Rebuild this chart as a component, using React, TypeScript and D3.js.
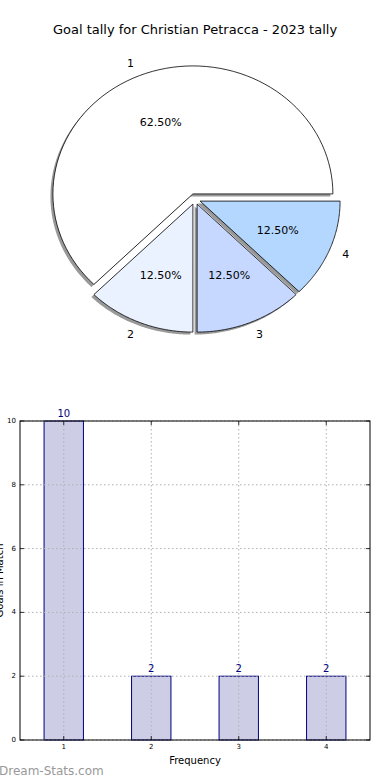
import React, { useEffect, useRef } from 'react';
import * as d3 from 'd3';

// pie data
const sliceLabels = ['1', '2', '3', '4'];
const sliceValues = [10, 2, 2, 2];
const sliceColors = ['#ffffff', '#ebf2ff', '#c6d8ff', '#b4d7ff'];

// bar data
const barCategories = [1, 2, 3, 4];
const barValues = [10, 2, 2, 2];
const yTicks = [0, 2, 4, 6, 8, 10];

const W = 390;
const H = 780;

const App: React.FC = () => {
  const svgRef = useRef<SVGSVGElement | null>(null);

  useEffect(() => {
    if (!svgRef.current) return;
    const svg = d3.select(svgRef.current);
    svg.selectAll('*').remove();
    const font = 'DejaVu Sans, sans-serif';

    // title
    svg.append('text')
      .attr('x', 195).attr('y', 34)
      .attr('text-anchor', 'middle')
      .style('font-family', font).style('font-size', '13px')
      .text('Goal tally for Christian Petracca - 2023 tally');

    // ---- pie (matplotlib style: starts east, counter-clockwise, elliptical) ----
    const cx = 195, cy = 199, rx = 140, ry = 128;
    const explode = 5.5;
    const total = d3.sum(sliceValues);
    const angle = d3.scaleLinear().domain([0, total]).range([0, 2 * Math.PI]);
    const pt = (a: number, k: number) => [k * rx * Math.cos(a), -k * ry * Math.sin(a)];

    const slices: { a0: number; a1: number; i: number }[] = [];
    let acc = 0;
    sliceValues.forEach((v, i) => {
      slices.push({ a0: angle(acc), a1: angle(acc + v), i });
      acc += v;
    });

    const slicePath = (a0: number, a1: number) => {
      const steps = 80;
      const p = d3.path();
      p.moveTo(0, 0);
      for (let s = 0; s <= steps; s++) {
        const a = a0 + (a1 - a0) * s / steps;
        const [x, y] = pt(a, 1);
        p.lineTo(x, y);
      }
      p.closePath();
      return p.toString();
    };

    const pieG = svg.append('g');
    // shadows
    slices.forEach(s => {
      const mid = (s.a0 + s.a1) / 2;
      const ox = explode * Math.cos(mid), oy = -explode * Math.sin(mid);
      pieG.append('path')
        .attr('transform', `translate(${cx + ox - 2.5},${cy + oy + 2.5})`)
        .attr('d', slicePath(s.a0, s.a1))
        .attr('fill', '#555').attr('opacity', 0.6);
    });
    slices.forEach(s => {
      const mid = (s.a0 + s.a1) / 2;
      const ox = explode * Math.cos(mid), oy = -explode * Math.sin(mid);
      const g = pieG.append('g').attr('transform', `translate(${cx + ox},${cy + oy})`);
      g.append('path')
        .attr('d', slicePath(s.a0, s.a1))
        .attr('fill', sliceColors[s.i])
        .attr('stroke', '#000').attr('stroke-width', 0.8);
    });
    slices.forEach(s => {
      const mid = (s.a0 + s.a1) / 2;
      const ox = explode * Math.cos(mid), oy = -explode * Math.sin(mid);
      const [lx, ly] = pt(mid, 1.1);
      const [px, py] = pt(mid, 0.6);
      const cos = Math.cos(mid);
      svg.append('text')
        .attr('x', cx + ox + lx).attr('y', cy + oy + ly)
        .attr('text-anchor', cos < -0.05 ? 'end' : cos > 0.05 ? 'start' : 'middle')
        .attr('dominant-baseline', 'central')
        .style('font-family', font).style('font-size', '11px')
        .text(sliceLabels[s.i]);
      svg.append('text')
        .attr('x', cx + ox + px).attr('y', cy + oy + py)
        .attr('text-anchor', 'middle')
        .attr('dominant-baseline', 'central')
        .style('font-family', font).style('font-size', '11px')
        .text(d3.format('.2f')(sliceValues[s.i] / total * 100) + '%');
    });

    // ---- bar chart ----
    const left = 20, right = 370, top = 421, bottom = 740;
    const x = d3.scaleLinear().domain([0.5, 4.5]).range([left, right]);
    const y = d3.scaleLinear().domain([0, 10]).range([bottom, top]);
    const barW = x(1.45) - x(1);

    const bars = svg.append('g');
    bars.selectAll('rect').data(barValues).enter().append('rect')
      .attr('x', (d, i) => x(barCategories[i]) - barW / 2)
      .attr('y', d => y(d))
      .attr('width', barW)
      .attr('height', d => y(0) - y(d))
      .attr('fill', '#cdcde6')
      .attr('stroke', '#000080').attr('stroke-width', 1);

    // grid
    const grid = svg.append('g')
      .attr('stroke', '#b0b0b0').attr('stroke-width', 1)
      .attr('stroke-dasharray', '1.5,2.5');
    yTicks.forEach(t => {
      grid.append('line').attr('x1', left).attr('x2', right)
        .attr('y1', y(t)).attr('y2', y(t));
    });
    barCategories.forEach(c => {
      grid.append('line').attr('x1', x(c)).attr('x2', x(c))
        .attr('y1', top).attr('y2', bottom);
    });

    // frame
    svg.append('rect')
      .attr('x', left).attr('y', top)
      .attr('width', right - left).attr('height', bottom - top)
      .attr('fill', 'none').attr('stroke', '#000').attr('stroke-width', 1);

    // ticks
    const ticks = svg.append('g').attr('stroke', '#000').attr('stroke-width', 0.8);
    yTicks.forEach(t => {
      ticks.append('line').attr('x1', left).attr('x2', left + 4).attr('y1', y(t)).attr('y2', y(t));
      ticks.append('line').attr('x1', right).attr('x2', right - 4).attr('y1', y(t)).attr('y2', y(t));
      svg.append('text')
        .attr('x', left - 4).attr('y', y(t))
        .attr('text-anchor', 'end').attr('dominant-baseline', 'central')
        .style('font-family', font).style('font-size', '7px')
        .text(t);
    });
    barCategories.forEach(c => {
      ticks.append('line').attr('x1', x(c)).attr('x2', x(c)).attr('y1', bottom).attr('y2', bottom - 4);
      ticks.append('line').attr('x1', x(c)).attr('x2', x(c)).attr('y1', top).attr('y2', top + 4);
      svg.append('text')
        .attr('x', x(c)).attr('y', bottom + 9)
        .attr('text-anchor', 'middle')
        .style('font-family', font).style('font-size', '7px')
        .text(c);
    });

    // value labels
    barValues.forEach((v, i) => {
      svg.append('text')
        .attr('x', x(barCategories[i])).attr('y', y(v) - 4)
        .attr('text-anchor', 'middle')
        .attr('fill', '#000080')
        .style('font-family', font).style('font-size', '10px')
        .text(v);
    });

    svg.append('text')
      .attr('x', 195).attr('y', 764)
      .attr('text-anchor', 'middle')
      .style('font-family', font).style('font-size', '10px')
      .text('Frequency');

    svg.append('text')
      .attr('transform', `translate(3,${(top + bottom) / 2}) rotate(-90)`)
      .attr('text-anchor', 'middle')
      .style('font-family', font).style('font-size', '10px')
      .text('Goals in Match');

    svg.append('text')
      .attr('x', -1).attr('y', 775)
      .attr('fill', '#999')
      .style('font-family', font).style('font-size', '12px')
      .text('Dream-Stats.com');
  }, []);

  return (
    <div style={{ position: 'absolute', left: 0, top: 0, width: W, height: H }}>
      <svg ref={svgRef} width={W} height={H} style={{ display: 'block', background: '#fff' }} />
    </div>
  );
};

export default App;
